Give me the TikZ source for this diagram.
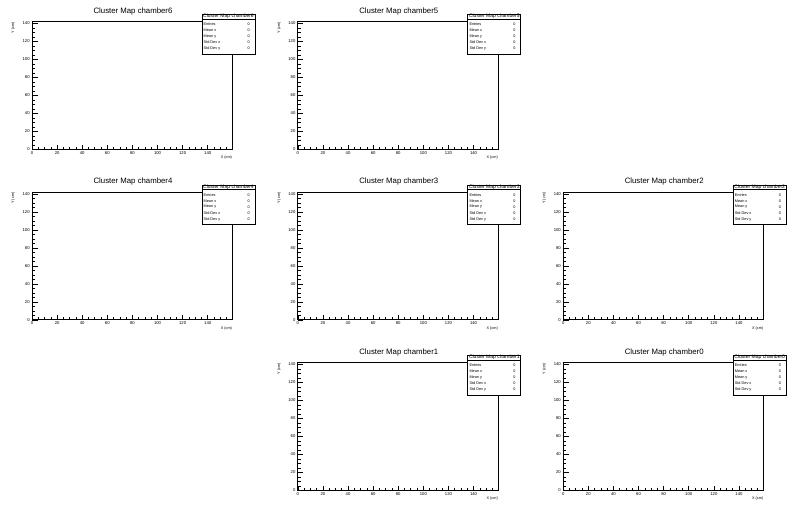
\documentclass[tikz,border=0pt]{standalone}
\usepackage{fontspec}
\setmainfont{Liberation Sans}
\tikzset{
  frame/.style={draw=black, line width=0.8pt},
  tickline/.style={draw=black, line width=0.6pt},
  titletext/.style={font=\fontsize{7.8}{9}\selectfont, inner sep=0pt},
  ticklab/.style={font=\fontsize{4.2}{5}\selectfont, inner sep=0pt},
  axlab/.style={font=\fontsize{3.8}{4.5}\selectfont, inner sep=0pt},
  stattitle/.style={font=\fontsize{5}{5.5}\selectfont, inner sep=0pt},
  statrow/.style={font=\fontsize{3.8}{4.5}\selectfont, inner sep=0pt},
}
\newcommand\histpanel[3]{%
\begin{scope}[shift={(#1,#2)}]
  \node[titletext] (title#3) at (133,11) {Cluster Map chamber#3};
  \draw[frame] (32,21.6) rectangle (232.4,149.3);
  \foreach \v in {0,5,...,155}{%
    \pgfmathsetmacro\xx{32+\v*1.2553}%
    \pgfmathtruncatemacro\md{mod(\v,20)}%
    \ifnum\md=0
      \draw[tickline] (\xx,149.3) -- ++(0,-4.8);
      \node[ticklab, anchor=north] (xl#3-\v) at (\xx,151.2) {\v};
    \else
      \draw[tickline] (\xx,149.3) -- ++(0,-2.4);
    \fi
  }
  \foreach \v in {0,5,...,140}{%
    \pgfmathsetmacro\yy{149.3-\v*0.9}%
    \pgfmathtruncatemacro\md{mod(\v,20)}%
    \ifnum\md=0
      \draw[tickline] (32,\yy) -- ++(5.6,0);
      \node[ticklab, anchor=east] (yl#3-\v) at (29.8,\yy) {\v};
    \else
      \draw[tickline] (32,\yy) -- ++(2.8,0);
    \fi
  }
  \node[axlab, anchor=north east] (xt#3) at (232.2,155.6) {X (cm)};
  \node[axlab, anchor=south east, rotate=90] (yt#3) at (15.2,21.7) {Y (cm)};
  % stats box
  \draw[frame, fill=white] (202,14.5) rectangle (255,54);
  \draw[line width=0.6pt] (202,18.8) -- (255,18.8);
  \node[stattitle] (st#3) at (228.5,16.7) {Cluster Map chamber#3};
  \node[statrow, anchor=west] (se#3) at (203.5,24.2) {Entries};
  \node[statrow, anchor=west] (smx#3) at (203.5,30.3) {Mean x};
  \node[statrow, anchor=west] (smy#3) at (203.5,36.4) {Mean y};
  \node[statrow, anchor=west] (ssx#3) at (203.5,42.5) {Std Dev x};
  \node[statrow, anchor=west] (ssy#3) at (203.5,48.6) {Std Dev y};
  \node[statrow, anchor=east] (ve#3) at (250,24.2) {0};
  \node[statrow, anchor=east] (vmx#3) at (250,30.3) {0};
  \node[statrow, anchor=east] (vmy#3) at (250,36.4) {0};
  \node[statrow, anchor=east] (vsx#3) at (250,42.5) {0};
  \node[statrow, anchor=east] (vsy#3) at (250,48.6) {0};
\end{scope}}
\begin{document}
\begin{tikzpicture}[x=1pt, y=-1pt]
  \useasboundingbox[fill=white] (0,0) rectangle (798,512);
  \histpanel{0}{0}{6}
  \histpanel{265.8}{0}{5}
  \histpanel{0}{170.5}{4}
  \histpanel{265.8}{170.5}{3}
  \histpanel{531.2}{170.5}{2}
  \histpanel{265.8}{341}{1}
  \histpanel{531.2}{341}{0}
\end{tikzpicture}
\end{document}
